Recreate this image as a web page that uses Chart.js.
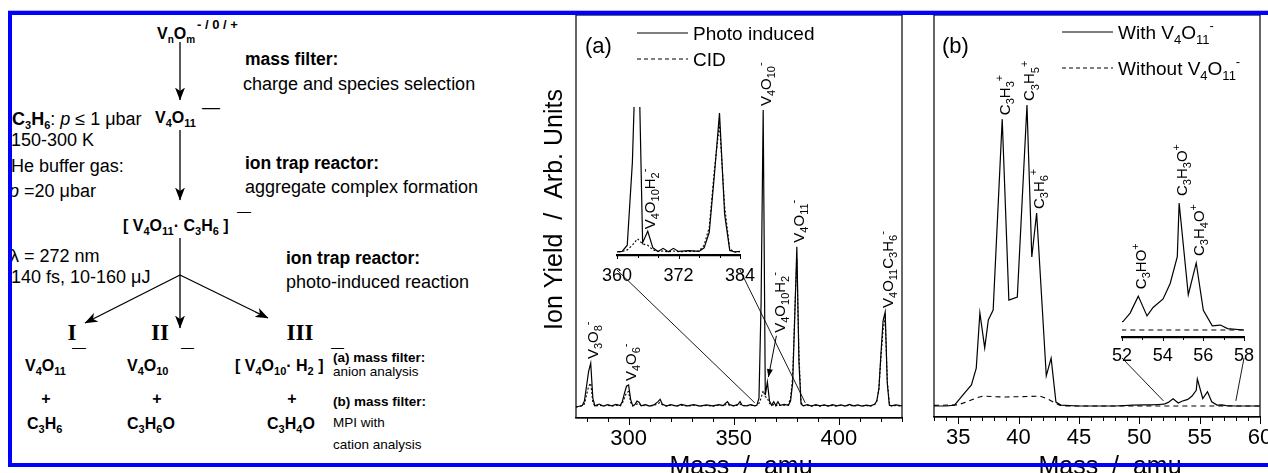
<!DOCTYPE html>
<html lang="en">
<head>
<meta charset="utf-8">
<title>V4O11- + C3H6 photo-induced reaction</title>
<script src="https://cdn.jsdelivr.net/npm/chart.js@4.4.1/dist/chart.umd.min.js"></script>
<style>
  html, body { margin: 0; padding: 0; background: #fff; }
  #fig { position: relative; width: 1268px; height: 473px; overflow: hidden; background: #fff; }
  #fig canvas { position: absolute; }
  #scheme { position: absolute; left: 0; top: 0; }
  .rule { position: absolute; background: #0000ff; z-index: 5; }
</style>
</head>
<body>
<div id="fig">
  <!-- reaction scheme (left third) -->
  <svg id="scheme" width="545" height="473" viewBox="0 0 545 473"
       font-family="'Liberation Sans', Arial, sans-serif" font-size="18" fill="#000">
    <defs>
      <marker id="head" viewBox="0 0 13 10" refX="12.5" refY="5" markerWidth="13" markerHeight="10"
              markerUnits="userSpaceOnUse" orient="auto">
        <path d="M0,0 L13,5 L0,10 L3.5,5 Z" fill="#000" stroke="none"/>
      </marker>
    </defs>
    <g stroke="#000" stroke-width="1.3" fill="none">
      <line x1="180" y1="42" x2="180" y2="100" marker-end="url(#head)"/>
      <line x1="180" y1="130" x2="180" y2="200" marker-end="url(#head)"/>
      <line x1="180" y1="238" x2="180" y2="328" marker-end="url(#head)"/>
      <line x1="180" y1="275" x2="85" y2="323" marker-end="url(#head)"/>
      <line x1="180" y1="275" x2="268" y2="318" marker-end="url(#head)"/>
    </g>

    <g font-weight="bold" font-size="16">
      <text x="157" y="39">V<tspan dy="4" font-size="10">n</tspan><tspan dy="-4">O</tspan><tspan dy="4" font-size="10">m</tspan></text>
      <text x="197" y="29" font-size="13">- / 0 / +</text>

      <text x="155" y="123">V<tspan dy="4" font-size="11">4</tspan><tspan dy="-4">O</tspan><tspan dy="4" font-size="11">11</tspan></text>
      <text x="202" y="113" font-weight="normal" font-size="18">—</text>

      <text x="123" y="231">[ V<tspan dy="4" font-size="11">4</tspan><tspan dy="-4">O</tspan><tspan dy="4" font-size="11">11</tspan><tspan dy="-4">· C</tspan><tspan dy="4" font-size="11">3</tspan><tspan dy="-4">H</tspan><tspan dy="4" font-size="11">6</tspan><tspan dy="-4"> ]</tspan></text>
      <text x="237" y="216" font-weight="normal" font-size="14">—</text>

      <text x="25" y="371">V<tspan dy="4" font-size="11">4</tspan><tspan dy="-4">O</tspan><tspan dy="4" font-size="11">11</tspan></text>
      <text x="72" y="352" font-weight="normal" font-size="14">—</text>
      <text x="127" y="371">V<tspan dy="4" font-size="11">4</tspan><tspan dy="-4">O</tspan><tspan dy="4" font-size="11">10</tspan></text>
      <text x="181" y="352" font-weight="normal" font-size="13">—</text>
      <text x="235" y="371">[ V<tspan dy="4" font-size="11">4</tspan><tspan dy="-4">O</tspan><tspan dy="4" font-size="11">10</tspan><tspan dy="-4">· H</tspan><tspan dy="4" font-size="11">2</tspan><tspan dy="-4"> ]</tspan></text>
      <text x="331" y="352" font-weight="normal" font-size="13">—</text>

      <text x="46" y="404" text-anchor="middle">+</text>
      <text x="157" y="404" text-anchor="middle">+</text>
      <text x="292" y="404" text-anchor="middle">+</text>

      <text x="27" y="429">C<tspan dy="4" font-size="11">3</tspan><tspan dy="-4">H</tspan><tspan dy="4" font-size="11">6</tspan></text>
      <text x="127" y="429">C<tspan dy="4" font-size="11">3</tspan><tspan dy="-4">H</tspan><tspan dy="4" font-size="11">6</tspan><tspan dy="-4">O</tspan></text>
      <text x="267" y="429">C<tspan dy="4" font-size="11">3</tspan><tspan dy="-4">H</tspan><tspan dy="4" font-size="11">4</tspan><tspan dy="-4">O</tspan></text>
    </g>

    <g font-weight="bold" font-size="17.5">
      <text x="245" y="65">mass filter:</text>
      <text x="245" y="169">ion trap reactor:</text>
      <text x="286" y="264">ion trap reactor:</text>
    </g>
    <text x="243" y="90">charge and species selection</text>
    <text x="245" y="193">aggregate complex formation</text>
    <text x="286" y="288">photo-induced reaction</text>

    <text x="12" y="125"><tspan font-weight="bold">C<tspan dy="4" font-size="11">3</tspan><tspan dy="-4">H</tspan><tspan dy="4" font-size="11">6</tspan></tspan><tspan dy="-4">: </tspan><tspan font-style="italic">p</tspan> ≤ 1 μbar</text>
    <text x="11" y="146">150-300 K</text>
    <text x="11" y="172">He buffer gas:</text>
    <text x="9" y="197"><tspan font-style="italic">p</tspan> =20 μbar</text>
    <text x="10" y="262">λ = 272 nm</text>
    <text x="11" y="283">140 fs, 10-160 μJ</text>

    <g font-family="'Liberation Serif', 'Times New Roman', serif" font-weight="bold" font-size="23" text-anchor="middle">
      <text x="72" y="340">I</text>
      <text x="160" y="340">II</text>
      <text x="300" y="340">III</text>
    </g>

    <g font-size="13.5">
      <text x="333" y="362" font-weight="bold">(a) mass filter:</text>
      <text x="333" y="376">anion analysis</text>
      <text x="333" y="406" font-weight="bold">(b) mass filter:</text>
      <text x="333" y="427">MPI with</text>
      <text x="333" y="449">cation analysis</text>
    </g>
  </svg>

  <canvas id="specA" style="left:540px;top:0" width="380" height="473"></canvas>
  <canvas id="insetA" style="left:600px;top:90px" width="160" height="200"></canvas>
  <canvas id="specB" style="left:915px;top:0" width="353" height="473"></canvas>
  <canvas id="insetB" style="left:1100px;top:120px" width="168" height="250"></canvas>

  <div class="rule" style="left:8px;top:10px;width:1260px;height:1px;background:#b8b8d8"></div>
  <div class="rule" style="left:8px;top:11px;width:1260px;height:4px"></div>
  <div class="rule" style="left:8px;top:11px;width:4px;height:456px"></div>
  <div class="rule" style="left:8px;top:463px;width:1260px;height:4px"></div>
</div>

<script>
// ---- panel (a): anion mass spectrum, photo induced vs. CID ----
const massA = [
  275, 278, 279, 280, 281, 282, 283, 284, 286, 288,
  290, 292, 294, 296, 297, 298, 299, 300, 301, 302,
  303, 304, 305, 306, 308, 310, 312, 314, 315, 316,
  318, 320, 323, 325, 328, 331, 334, 337, 340, 343,
  345, 347, 348, 350, 352, 353, 354, 356, 358, 360,
  361, 362, 363, 364, 365, 366, 367, 368, 369,
  370, 371, 372, 374, 376, 377, 378, 379, 380, 381,
  382, 383, 385, 387, 389, 391, 393, 395, 397, 399,
  401, 403, 405, 407, 409, 411, 413, 415, 417, 418,
  419, 420, 421, 422, 423, 424, 425, 427, 430
];
const photoA = [
  .000, .005, .020, .070, .120, .148, .030, .004, .010, .003,
  .008, .004, .009, .005, .018, .045, .070, .074, .025, .004,
  .008, .020, .016, .004, .008, .003, .007, .018, .026, .010,
  .003, .008, .003, .009, .004, .008, .003, .007, .004, .008,
  .005, .018, .008, .004, .009, .018, .006, .004, .008, .004,
  .006, .030, .350, 1.000, .040, .084, .020, .006, .018,
  .005, .018, .006, .009, .006, .020, .080, .300, .540, .150,
  .010, .004, .008, .003, .008, .004, .007, .003, .008, .004,
  .007, .003, .009, .004, .007, .003, .006, .004, .009, .020,
  .060, .180, .290, .320, .080, .006, .004, .007, .004
];
const cidA = [
  .000, .004, .010, .040, .070, .080, .015, .003, .006, .004,
  .006, .003, .006, .004, .012, .030, .048, .052, .015, .004,
  .006, .010, .012, .004, .006, .004, .005, .012, .015, .008,
  .004, .006, .004, .006, .003, .006, .004, .005, .003, .006,
  .004, .010, .006, .004, .006, .010, .005, .004, .006, .004,
  .006, .012, .030, .055, .035, .030, .012, .006, .008,
  .004, .008, .005, .006, .008, .030, .100, .320, .500, .180,
  .015, .004, .006, .004, .006, .003, .006, .004, .005, .003,
  .006, .004, .006, .003, .005, .004, .005, .003, .008, .020,
  .060, .170, .260, .300, .090, .010, .004, .005, .003
];
const ticksA = [300, 350, 400];
const insetTicksA = [360, 372, 384];
const peaksA = [['V_3O_8^-', 282], ['V_4O_6^-', 300], ['V_4O_{10}^-', 364], ['V_4O_{11}^-', 380], ['V_4O_{11}C_3H_6^-', 422]];
const insetPeaksA = [['V_4O_{10}H_2^-', 366]];

// ---- panel (b): cation mass spectrum with / without V4O11- ----
const massB = [
  33, 34, 34.7, 35.4, 36.1, 36.5, 36.8, 37.2, 37.5, 37.9,
  38.65, 39.2, 39.9, 40.7, 41.1, 41.5, 42.3, 42.7, 43.1, 43.5,
  45, 48, 49.5, 50.5, 51.0, 51.6, 52.05, 52.4, 52.8, 53.23,
  53.53, 54.02, 54.37, 54.72, 54.81, 55.26, 55.65, 56.0, 56.44, 56.84,
  57.19, 57.98, 60
];
const withB = [
  0, 0, .003, .037, .070, .126, .309, .193, .286, .319,
  .953, .352, .362, 1.000, .495, .641, .100, .159, .013, .003,
  0, 0, .003, .004, .004, .005, .006, .012, .024, .010,
  .016, .022, .033, .052, .090, .025, .0475, .014, .003, .0035,
  .001, 0, 0
];
const massB0 = [33, 35.0, 35.8, 36.5, 37.1, 38.0, 39.0, 40.0, 41.0, 41.8, 42.4, 42.9, 43.4, 44, 60];
const withoutB = [.002, .004, .015, .027, .033, .031, .030, .031, .032, .033, .024, .013, .003, 0, 0];
const ticksB = [35, 40, 45, 50, 55, 60];
const insetTicksB = [52, 54, 56, 58];
const peaksB = [['C_3H_3^+', 39], ['C_3H_5^+', 41], ['C_3H_6^+', 42]];
const insetPeaksB = [['C_3HO^+', 53], ['C_3H_3O^+', 55], ['C_3H_4O^+', 56]];

const FONT = '"Liberation Sans", Arial, sans-serif';
Chart.defaults.font.family = FONT;
Chart.defaults.color = '#000';

const xy = (xs, ys) => xs.map((x, i) => ({ x, y: ys[i] }));

// "V_4O_{10}^-" -> normal / sub / sup segments
function parseRich(s) {
  const out = []; let buf = '', i = 0;
  const flush = () => { if (buf) { out.push({ t: buf, k: 'n' }); buf = ''; } };
  while (i < s.length) {
    const c = s[i];
    if (c === '_' || c === '^') {
      flush();
      let t;
      if (s[i + 1] === '{') { const j = s.indexOf('}', i); t = s.slice(i + 2, j); i = j + 1; }
      else { t = s[i + 1]; i += 2; }
      out.push({ t, k: c === '_' ? 'sub' : 'sup' });
    } else { buf += c; i++; }
  }
  flush();
  return out;
}
function drawRich(ctx, str, size) {
  const small = Math.round(size * 0.7);
  let x = 0;
  for (const seg of parseRich(str)) {
    if (seg.k === 'n') {
      ctx.font = `${size}px ${FONT}`; ctx.fillText(seg.t, x, 0);
    } else {
      ctx.font = `${small}px ${FONT}`;
      ctx.fillText(seg.t, x, seg.k === 'sub' ? size * 0.28 : -size * 0.45);
    }
    x += ctx.measureText(seg.t).width;
  }
  return x;
}
// rotated label reading bottom-to-top, main glyphs centred on cx
function verticalRich(ctx, str, cx, bottom, size) {
  ctx.save();
  ctx.translate(cx + size * 0.358, bottom);
  ctx.rotate(-Math.PI / 2);
  ctx.textBaseline = 'alphabetic';
  drawRich(ctx, str, size);
  ctx.restore();
}
function peakNear(pts, at, win) {
  let best = null;
  pts.forEach(p => { if (Math.abs(p.x - at) <= win && (!best || p.y > best.y)) best = p; });
  return best;
}

// ── plugins ──
const frame = {
  id: 'frame',
  afterDraw(chart) {
    const { ctx, chartArea: a } = chart;
    ctx.save(); ctx.strokeStyle = '#000'; ctx.lineWidth = 1.2;
    ctx.strokeRect(a.left, a.top, a.right - a.left, a.bottom - a.top);
    ctx.restore();
  }
};

const tickMarks = {
  id: 'tickMarks',
  afterDraw(chart, args, o) {
    if (!o.step) return;
    const { ctx } = chart, xs = chart.scales.x, y0 = chart.chartArea.bottom;
    ctx.save(); ctx.strokeStyle = '#000'; ctx.lineWidth = 1;
    for (let v = Math.ceil(xs.min / o.step) * o.step; v <= xs.max + 1e-9; v += o.step) {
      const x = Math.round(xs.getPixelForValue(v)) + 0.5;
      const len = o.major.includes(Math.round(v * 1000) / 1000) ? o.majorLen : o.minorLen;
      ctx.beginPath(); ctx.moveTo(x, y0); ctx.lineTo(x, y0 + len); ctx.stroke();
    }
    ctx.restore();
  }
};

const peakLabels = {
  id: 'peakLabels',
  afterDatasetsDraw(chart, args, o) {
    if (!o.items) return;
    const { ctx, scales: { x, y } } = chart;
    const pts = chart.data.datasets[0].data;
    ctx.save(); ctx.fillStyle = '#000'; ctx.strokeStyle = '#000';
    o.items.forEach(([text, mass]) => {
      const p = peakNear(pts, mass, o.window);
      verticalRich(ctx, text, x.getPixelForValue(p.x) + 2, y.getPixelForValue(p.y) - o.gap, o.size);
    });
    (o.arrowed || []).forEach(([text, mass, height]) => {
      const p = peakNear(pts, mass, o.window);
      const px = x.getPixelForValue(p.x), py = y.getPixelForValue(p.y);
      const lx = px + 12, ly = y.getPixelForValue(height);
      verticalRich(ctx, text, lx, ly, o.size);
      const sx = lx - 3, sy = ly + 3, ex = px + 1, ey = py - 5;
      const ang = Math.atan2(ey - sy, ex - sx);
      ctx.lineWidth = 1;
      ctx.beginPath(); ctx.moveTo(sx, sy); ctx.lineTo(ex, ey); ctx.stroke();
      ctx.beginPath(); ctx.moveTo(ex, ey);
      ctx.lineTo(ex - 8 * Math.cos(ang) + 3 * Math.sin(ang), ey - 8 * Math.sin(ang) - 3 * Math.cos(ang));
      ctx.lineTo(ex - 8 * Math.cos(ang) - 3 * Math.sin(ang), ey - 8 * Math.sin(ang) + 3 * Math.cos(ang));
      ctx.closePath(); ctx.fill();
    });
    ctx.restore();
  }
};

const legendRows = {
  id: 'legendRows',
  afterDraw(chart, args, o) {
    if (!o.len) return;
    const { ctx, chartArea: a } = chart;
    chart.data.datasets.forEach((ds, i) => {
      const y = a.top + o.top + i * o.gap;
      const x0 = a.left + o.left;
      ctx.save();
      ctx.strokeStyle = ds.borderColor; ctx.lineWidth = ds.borderWidth;
      ctx.setLineDash(ds.legendDash || []);
      ctx.beginPath(); ctx.moveTo(x0, y); ctx.lineTo(x0 + o.len, y); ctx.stroke();
      ctx.restore();
      ctx.save(); ctx.fillStyle = '#000'; ctx.textBaseline = 'alphabetic';
      ctx.translate(x0 + o.len + 5, y + o.size * 0.36);
      drawRich(ctx, ds.label, o.size);
      ctx.restore();
    });
    ctx.save(); ctx.fillStyle = '#000'; ctx.font = `${o.tagSize}px ${FONT}`;
    ctx.fillText(o.tag, a.left + o.tagLeft, a.top + o.tagTop);
    ctx.restore();
  }
};

const axisTitles = {
  id: 'axisTitles',
  afterDraw(chart, args, o) {
    const { ctx, chartArea: a } = chart;
    ctx.save(); ctx.fillStyle = '#000'; ctx.font = `${o.size}px ${FONT}`;
    if (o.x) {
      ctx.textAlign = 'center'; ctx.textBaseline = 'alphabetic';
      ctx.fillText(o.x, (a.left + a.right) / 2 + (o.xShift || 0), chart.height + 1);
    }
    if (o.y) {
      ctx.translate(a.left - o.yGap, (a.top + a.bottom) / 2 + (o.yShift || 0));
      ctx.rotate(-Math.PI / 2);
      ctx.textAlign = 'center'; ctx.textBaseline = 'middle';
      ctx.fillText(o.y, 0, 0);
    }
    ctx.restore();
  }
};

// thin lines from the inset's axis ends down to the zoomed region
const zoomLines = {
  id: 'zoomLines',
  afterDatasetsDraw(chart, args, o) {
    const ins = Chart.getChart(o.insetId); if (!ins) return;
    const { ctx, scales: { x, y } } = chart;
    const dx = ins.canvas.offsetLeft - chart.canvas.offsetLeft;
    const dy = ins.canvas.offsetTop - chart.canvas.offsetTop;
    const ix = ins.scales.x;
    ctx.save(); ctx.strokeStyle = '#000'; ctx.lineWidth = 0.9;
    [ix.min, ix.max].forEach(v => {
      ctx.beginPath();
      ctx.moveTo(ix.getPixelForValue(v) + dx, ins.chartArea.bottom + o.drop + dy);
      ctx.lineTo(x.getPixelForValue(v), y.getPixelForValue(o.endValue));
      ctx.stroke();
    });
    ctx.restore();
  }
};

function spectrum(id, o) {
  return new Chart(document.getElementById(id), {
    type: 'line',
    data: { datasets: o.datasets },
    options: {
      responsive: false, animation: false, events: [],
      layout: { padding: o.pad },
      elements: { point: { radius: 0 }, line: { tension: 0 } },
      scales: {
        x: {
          type: 'linear', min: o.xmin, max: o.xmax,
          grid: { display: false },
          border: { display: true, color: '#000', width: o.axisWidth },
          ticks: {
            stepSize: o.step, autoSkip: false, maxRotation: 0, padding: o.tickPad,
            font: { size: o.tickSize }, color: '#000',
            callback: v => o.labels.includes(v) ? String(v) : ''
          },
          afterFit: s => { s.height = o.axisHeight; s.paddingLeft = 0; s.paddingRight = 0; }
        },
        y: { display: false, min: o.ymin, max: o.ymax }
      },
      plugins: Object.assign({ legend: { display: false }, tooltip: { enabled: false } }, o.plugins)
    },
    plugins: o.use
  });
}

const solid = (label, data) => ({ label, data, borderColor: '#000', borderWidth: 1.2, fill: false });
const dashed = (label, data, dash) => ({ label, data, borderColor: '#000', borderWidth: 1.1, borderDash: dash, legendDash: [4, 3], fill: false });

// ── panel (a) ──
spectrum('insetA', {
  datasets: [solid('Photo induced', xy(massA, photoA)), dashed('CID', xy(massA, cidA), [2, 2])],
  pad: { left: 17, right: 20, top: 17, bottom: 0 },
  xmin: 360, xmax: 384, step: 4, labels: insetTicksA,
  ymin: -0.0077, ymax: 0.5637,
  axisWidth: 2.2, axisHeight: 35, tickPad: 2, tickSize: 18,
  plugins: {
    tickMarks: { step: 4, major: insetTicksA, majorLen: 4, minorLen: 3 },
    peakLabels: { items: insetPeaksA, window: 0.6, gap: 2, size: 15 }
  },
  use: [tickMarks, peakLabels]
});
spectrum('specA', {
  datasets: [solid('Photo induced', xy(massA, photoA)), dashed('CID', xy(massA, cidA), [2, 2])],
  pad: { left: 36, right: 18, top: 15, bottom: 0 },
  xmin: 275, xmax: 430, step: 10, labels: ticksA,
  ymin: -0.037, ymax: 1.32,
  axisWidth: 1.2, axisHeight: 55, tickPad: 0, tickSize: 22,
  plugins: {
    tickMarks: { step: 10, major: ticksA, majorLen: 7, minorLen: 4 },
    peakLabels: { items: peaksA, window: 1.5, gap: 4, size: 15, arrowed: [['V_4O_{10}H_2^-', 366, 0.25]] },
    legendRows: { left: 61, top: 18, gap: 26, len: 51, size: 19, tag: '(a)', tagSize: 22, tagLeft: 9, tagTop: 38 },
    axisTitles: { size: 25, x: 'Mass  /  amu', xShift: 2, y: 'Ion Yield  /  Arb. Units', yGap: 21, yShift: -7 },
    zoomLines: { insetId: 'insetA', drop: 15, endValue: 0.014 }
  },
  use: [frame, zoomLines, tickMarks, peakLabels, legendRows, axisTitles]
});

// ── panel (b) ──
spectrum('insetB', {
  datasets: [solid('With V_4O_{11}^-', xy(massB, withB)), dashed('Without V_4O_{11}^-', xy(massB0, withoutB), [5, 4])],
  pad: { left: 22, right: 24, top: 70, bottom: 0 },
  xmin: 52, xmax: 58, step: 1, labels: insetTicksB,
  ymin: -0.00496, ymax: 0.0992,
  axisWidth: 2.2, axisHeight: 33, tickPad: 0, tickSize: 18,
  plugins: {
    tickMarks: { step: 1, major: insetTicksB, majorLen: 4, minorLen: 3 },
    peakLabels: { items: insetPeaksB, window: 0.6, gap: 7, size: 15 }
  },
  use: [tickMarks, peakLabels]
});
spectrum('specB', {
  datasets: [solid('With V_4O_{11}^-', xy(massB, withB)), dashed('Without V_4O_{11}^-', xy(massB0, withoutB), [5, 4])],
  pad: { left: 19, right: 8, top: 15, bottom: 0 },
  xmin: 33, xmax: 60, step: 1, labels: ticksB,
  ymin: -0.0365, ymax: 1.299,
  axisWidth: 1.2, axisHeight: 56, tickPad: 0, tickSize: 22,
  plugins: {
    tickMarks: { step: 1, major: ticksB, majorLen: 7, minorLen: 4 },
    peakLabels: { items: peaksB, window: 0.6, gap: 4, size: 15 },
    legendRows: { left: 128, top: 17, gap: 36, len: 51, size: 19, tag: '(b)', tagSize: 22, tagLeft: 8, tagTop: 38 },
    axisTitles: { size: 25, x: 'Mass  /  amu', xShift: 13 },
    zoomLines: { insetId: 'insetB', drop: 21, endValue: 0.017 }
  },
  use: [frame, zoomLines, tickMarks, peakLabels, legendRows, axisTitles]
});
</script>
</body>
</html>
